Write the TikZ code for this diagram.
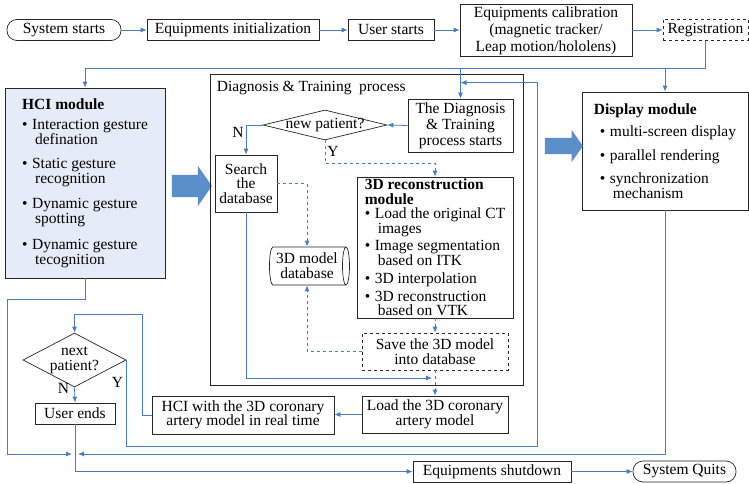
\documentclass[tikz,border=0pt]{standalone}
\usepackage{fontspec}
\setmainfont{Liberation Serif}
\usepackage{tikz}
\usetikzlibrary{arrows.meta,
    calc,
    positioning,
    shapes.arrows,
    shapes.geometric}

\definecolor{linkblue}{RGB}{74,126,187}
\definecolor{bigblue}{RGB}{91,143,201}
\definecolor{hcifill}{RGB}{230,236,247}

\newcommand{\bu}{\makebox[10pt][l]{\textbullet}}
\newcommand{\bc}{\hspace*{13pt}}
\lineskiplimit=-20pt

\tikzset{
  every node/.style={font=\fontsize{15.5}{14.5}\selectfont},
  box/.style={draw=black!85, line width=0.7pt, inner sep=2pt, align=center, minimum height=21},
  dbox/.style={box, dashed},
  term/.style={box, rounded corners=10},
  cond/.style={diamond, draw=black!85, line width=0.7pt, inner sep=0},
  module/.style={box, align=left},
  flow/.style={draw=linkblue, line width=0.8pt, -{Latex[length=6pt,width=5pt]}},
  dflow/.style={flow, dashed},
  fatarrow/.style={single arrow, fill=bigblue, inner xsep=0, single arrow head indent=0, single arrow tip angle=110}
}

\begin{document}
\begin{tikzpicture}[x=1pt, y=-1pt]
\useasboundingbox (0,0) rectangle (749,484);

% top row
\node[term, minimum width=114] (start) at (64,30) {System starts};
\node[box, minimum width=172] (init) at (233,30) {Equipments initialization};
\node[box, minimum width=86] (ustart) at (391,30) {User starts};
\node[box, minimum width=172, minimum height=51, font=\fontsize{15.5}{17}\selectfont] (calib) at (546,30.5)
  {Equipments calibration\\(magnetic tracker/\\Leap motion/hololens)};
\node[dbox, minimum width=85] (reg) at (705.5,30) {Registration};

% modules
\node[module, fill=hcifill, minimum width=160, minimum height=190] (hci) at (85,183)
  {\textbf{HCI module}\\[6pt]
   \bu Interaction gesture\\ \bc defination\\[10pt]
   \bu Static gesture\\ \bc recognition\\[11pt]
   \bu Dynamic gesture\\ \bc spotting\\[12pt]
   \bu Dynamic gesture\\ \bc tecognition};
\node[module, minimum width=166, minimum height=118] (disp) at (665,151)
  {\textbf{Display module}\\[8pt]
   \hspace*{6pt}\bu multi-screen display\\[9pt]
   \hspace*{6pt}\bu parallel rendering\\[9pt]
   \hspace*{6pt}\bu synchronization\\
   \hspace*{6pt}\bc mechanism};
\node[fatarrow, minimum height=40, inner ysep=11, single arrow head extend=9] (arr1) at (188,186) {};
\node[fatarrow, minimum height=38, inner ysep=8, single arrow head extend=8] (arr2) at (561,146) {};

% diagnosis & training
\node[draw=black!85, line width=0.7pt, minimum width=313, minimum height=311, inner sep=0] (dtbox) at (366.5,229.5) {};
\node[anchor=north west, inner sep=0] (dttitle) at ($(dtbox.north west)+(7,7)$) {Diagnosis \& Training\ \ process};
\node[box, minimum width=105, minimum height=53, font=\fontsize{15.5}{16}\selectfont] (dtstart) at (460.5,125.5)
  {The Diagnosis\\\& Training\\process starts};
\node[cond, minimum width=124, minimum height=30, label=center:{new patient?}] (np) at (325,125) {};
\node[box, minimum width=62, minimum height=57] (search) at (246,183.5) {Search\\the\\database};
\node[module, minimum width=156, minimum height=141] (recon) at (435,247.5)
  {\textbf{3D reconstruction}\\\textbf{module}\\
   \bu Load the original CT\\ \bc images\\[3pt]
   \bu Image segmentation\\ \bc based on ITK\\[4pt]
   \bu 3D interpolation\\[3pt]
   \bu 3D reconstruction\\ \bc based on VTK};
\node[cylinder, draw=black!85, line width=0.7pt, aspect=0.25, minimum width=38, minimum height=80,
  inner sep=1pt, align=center, font=\fontsize{15.5}{15}\selectfont] (cyl) at (307,266) {3D model\\database};
\node[dbox, minimum width=146, minimum height=37, font=\fontsize{15.5}{15}\selectfont] (save) at (435,351.5)
  {Save the 3D model\\into database};

% lower part
\node[box, minimum width=146, minimum height=37] (load) at (435,414.5) {Load the 3D coronary\\artery model};
\node[box, minimum width=182, minimum height=38] (hciwith) at (243,415) {HCI with the 3D coronary\\artery model in real time};
\node[cond, minimum width=103, minimum height=54,
  label={[align=center, font=\fontsize{15.5}{15}\selectfont]center:{next\\patient?}}] (nextp) at (74.5,360) {};
\node[box, minimum width=80] (uend) at (75,413.5) {User ends};
\node[box, minimum width=158] (shut) at (492,471.5) {Equipments shutdown};
\node[term, minimum width=103] (quit) at (684.5,471.5) {System Quits};

\coordinate (tbus) at (85,68);
\coordinate (ybus) at (537,446);
\coordinate (hbus) at (142,314);
\coordinate (lbus) at (7,299);
\coordinate (meet) at (75,454);
\coordinate (sjoin) at (432,378);

% connectors
\draw[flow] (start) -- (init);
\draw[flow] (init) -- (ustart);
\draw[flow] (ustart.east) -- (ustart.east -| calib.west);
\draw[flow] (calib.east |- reg.west) -- (reg.west);
\draw[flow] (reg.south) |- (tbus) -- (hci.north);
\draw[flow] (dtstart.north |- tbus) -- (dtstart.north);
\draw[flow] (disp.north |- tbus) -- (disp.north);
\draw[flow] (dtstart.west) -- (np.east);
\draw[flow] (np.west) -| node[pos=0.62, left, inner sep=2pt] (nlab) {N} (search.north);
\draw[dflow] (np.south) -- node[right, inner sep=2pt] (ylab) {Y} ++(0,23) -| (recon.north);
\draw[dflow] (search.east) -| (cyl.north);
\draw[dflow] (recon.south) -- (save.north);
\draw[dflow] (save.west) -| (cyl.south);
\draw[dflow] (save.south) -- (load.north);
\draw[flow] (search.south) |- (sjoin);
\draw[flow] (load.west) -- (load.west -| hciwith.east);
\draw[flow] (hciwith.west) -| (hbus) -| (nextp.north);
\draw[flow] (nextp.east) |- node[pos=0.13, left, inner sep=3pt] (ylab2) {Y} (ybus) |- ($(dtstart.north)+(0,-16)$);
\draw[flow] (nextp.south) -- node[pos=0.1, left, inner sep=5pt] (nlab2) {N} (uend.north);
\draw[flow] (hci.south) |- (lbus) |- ($(meet)+(-3,0)$);
\draw[flow] (disp.south) |- ($(meet)+(3,0)$);
\draw[flow] (uend.south) |- (shut.west);
\draw[flow] (shut) -- (quit);
\end{tikzpicture}
\end{document}
